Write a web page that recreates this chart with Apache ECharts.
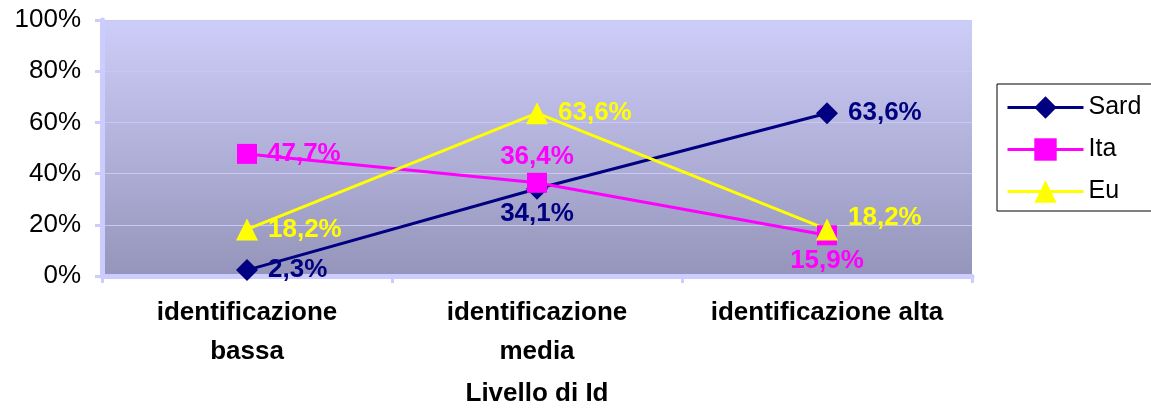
<!DOCTYPE html>
<html>
<head>
<meta charset="utf-8">
<script src="https://cdn.jsdelivr.net/npm/echarts@6/dist/echarts.min.js"></script>
<style>
  html, body { margin: 0; padding: 0; background: #fff; }
  #main { width: 1151px; height: 409px; }
</style>
</head>
<body>
<div id="main"></div>
<script>
  // categorie e valori (percentuali)
  const categories = ['identificazione\nbassa', 'identificazione\nmedia', 'identificazione alta'];
  const sard = [2.3, 34.1, 63.6];
  const ita = [47.7, 36.4, 15.9];
  const eu = [18.2, 63.6, 18.2];
  const yTicks = [0, 20, 40, 60, 80, 100];

  const font = 'Liberation Sans, Arial, sans-serif';
  const fmt = v => v.toFixed(1).replace('.', ',') + '%';

  // stile etichette per punto: [posizione, distanza, spostamento y]
  const mkData = (values, lbl) => values.map((v, i) => ({
    value: v,
    label: {position: lbl[i][0], distance: lbl[i][1], offset: [0, lbl[i][2]]}
  }));

  const mkSeries = (name, values, color, symbol, size, lbl) => ({
    name: name,
    type: 'line',
    data: mkData(values, lbl),
    symbol: symbol,
    symbolSize: size,
    lineStyle: {color: color, width: 3},
    itemStyle: {color: color},
    label: {
      show: true,
      color: color,
      fontFamily: font,
      fontWeight: 'bold',
      fontSize: 26,
      formatter: p => fmt(p.value)
    },
    emphasis: {disabled: true},
    animation: false
  });

  let myChart = echarts.init(document.getElementById('main'));
  myChart.setOption({
    textStyle: {fontFamily: font},
    grid: {left: 102, right: 179, top: 20, bottom: 133, containLabel: false, outerBoundsMode: 'none'},
    graphic: [],
    legend: {
      orient: 'vertical',
      left: 997,
      top: 84,
      itemWidth: 76,
      itemHeight: 28,
      itemGap: 17,
      borderColor: '#000',
      borderWidth: 1,
      padding: [11, 30, 7, 9],
      lineStyle: {width: 3},
      textStyle: {fontSize: 25, color: '#000', fontFamily: font}
    },
    xAxis: {
      type: 'category',
      data: categories,
      boundaryGap: true,
      name: 'Livello di Id',
      nameLocation: 'middle',
      nameGap: 105,
      nameTextStyle: {fontSize: 26, fontWeight: 'bold', color: '#000', fontFamily: font},
      axisLine: {lineStyle: {color: '#ccccff', width: 5}},
      axisTick: {show: true, interval: 0, length: 7, lineStyle: {color: '#ccccff', width: 3}},
      axisLabel: {
        interval: 0, hideOverlap: false,
        fontSize: 26, fontWeight: 'bold', color: '#000', margin: 17,
        lineHeight: 39, fontFamily: font
      },
      splitLine: {show: false}
    },
    yAxis: {
      type: 'value',
      min: 0,
      max: 100,
      interval: 20,
      axisLine: {show: true, lineStyle: {color: '#ccccff', width: 5}},
      axisTick: {show: true, length: 7, lineStyle: {color: '#ccccff', width: 3}},
      axisLabel: {
        fontSize: 26, color: '#000', margin: 21, fontFamily: font,
        formatter: v => yTicks.includes(v) ? v + '%' : ''
      },
      splitLine: {lineStyle: {color: '#c8c8f0', width: 1}},
      splitArea: {show: false}
    },
    series: [
      mkSeries('Sard', sard, '#000080', 'diamond', 22,
        [['right', 10, 0], ['bottom', 1, 0], ['right', 10, 0]]),
      mkSeries('Ita', ita, '#ff00ff', 'rect', 20,
        [['right', 10, 0], ['top', 3, 0], ['bottom', 3, 0]]),
      mkSeries('Eu', eu, '#ffff00', 'triangle', 22,
        [['right', 10, 0], ['right', 10, 0], ['right', 10, -12]])
    ]
  });

  // sfondo sfumato dell'area del grafico
  const rect = myChart.getModel().getComponent('grid').coordinateSystem.getRect();
  myChart.setOption({
    graphic: [{
      type: 'rect',
      z: -1,
      silent: true,
      shape: {x: rect.x, y: rect.y, width: rect.width, height: rect.height},
      style: {
        fill: new echarts.graphic.LinearGradient(0, 0, 0, 1, [
          {offset: 0, color: '#cdcdf9'},
          {offset: 1, color: '#9595bb'}
        ])
      }
    }]
  });
</script>
</body>
</html>
